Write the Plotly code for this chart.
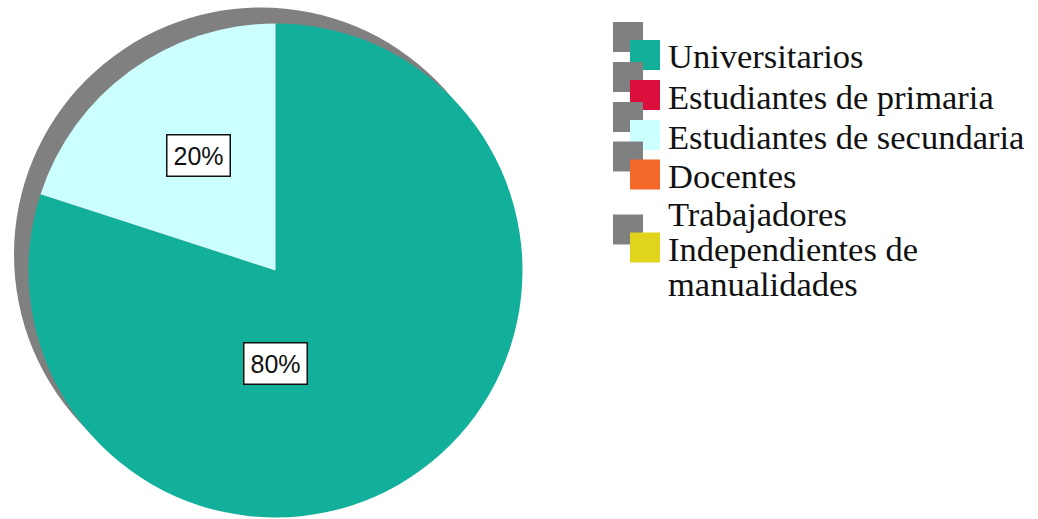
import plotly.graph_objects as go
import math

# ---- data ----
categories = ["Universitarios", "Estudiantes de primaria", "Estudiantes de secundaria",
              "Docentes", "Trabajadores Independientes de manualidades"]
values = [80, 0, 20, 0, 0]
legend_lines = [["Universitarios"], ["Estudiantes de primaria"], ["Estudiantes de secundaria"],
                ["Docentes"], ["Trabajadores", "Independientes de", "manualidades"]]

# ---- style ----
colors = ["#12B09A", "#DC0F3C", "#CCFFFF", "#F4692A", "#E0D51C"]
shadow = "#808080"
W, H = 1038, 519

def px(x):
    return x / W

def py(y):
    return 1 - y / H

# pie geometry in pixels
cx, cy, R = 275.5, 270.5, 247.0
sdx, sdy = -14.5, -16.0

def dom(cx_, cy_, r_):
    return dict(x=[px(cx_ - r_), px(cx_ + r_)], y=[py(cy_ + r_), py(cy_ - r_)])

fig = go.Figure()
# shadow disc
fig.add_trace(go.Pie(values=[1], labels=["shadow"], marker=dict(colors=[shadow], line=dict(width=0)),
                     textinfo="none", hoverinfo="skip", showlegend=False, sort=False,
                     domain=dom(cx + sdx, cy + sdy, R)))
# data pie
fig.add_trace(go.Pie(values=values, labels=categories, marker=dict(colors=colors, line=dict(width=0)),
                     textinfo="none", showlegend=False, sort=False, direction="clockwise",
                     rotation=0, domain=dom(cx, cy, R)))

# percentage labels (angle from 12 o'clock clockwise, radius fraction)
label_place = {"Universitarios": (180, 0.375), "Estudiantes de secundaria": (326, 0.56)}
total = sum(values)
annotations = []
for cat, v in zip(categories, values):
    if v <= 0 or cat not in label_place:
        continue
    ang, rf = label_place[cat]
    lx = cx + R * rf * math.sin(math.radians(ang))
    ly = cy - R * rf * math.cos(math.radians(ang))
    annotations.append(dict(x=px(lx), y=py(ly), xref="paper", yref="paper",
                            text=f"{v / total * 100:.0f}%", showarrow=False,
                            font=dict(family="Liberation Sans, Arial", size=25, color="#111111"),
                            bgcolor="white", bordercolor="#111111", borderwidth=1.5, borderpad=6,
                            xanchor="center", yanchor="middle"))

# manual legend
shapes = []
sq = 30
sq_x = 630
sq_centers = [55, 95, 135, 174.5, 247.5]
line_h = 35
text_x = 668
for lines, col, yc in zip(legend_lines, colors, sq_centers):
    shapes.append(dict(type="rect", xref="paper", yref="paper",
                       x0=px(sq_x - 17), x1=px(sq_x - 17 + sq), y0=py(yc - 18 - sq / 2), y1=py(yc - 18 + sq / 2),
                       fillcolor=shadow, line=dict(width=0), layer="above"))
    shapes.append(dict(type="rect", xref="paper", yref="paper",
                       x0=px(sq_x), x1=px(sq_x + sq), y0=py(yc - sq / 2), y1=py(yc + sq / 2),
                       fillcolor=col, line=dict(width=0), layer="above"))
    n = len(lines)
    for i, t in enumerate(lines):
        ty = yc + 1.5 + (i - (n - 1) / 2) * line_h
        annotations.append(dict(x=px(text_x), y=py(ty), xref="paper", yref="paper", text=t,
                                showarrow=False, xanchor="left", yanchor="middle", borderpad=0,
                                borderwidth=0,
                                font=dict(family="Liberation Serif, Times New Roman, serif",
                                          size=34.5, color="#111111")))

fig.update_layout(width=W, height=H, margin=dict(l=0, r=0, t=0, b=0),
                  paper_bgcolor="white", plot_bgcolor="white",
                  shapes=shapes, annotations=annotations, showlegend=False)
fig.write_html("out.html")
